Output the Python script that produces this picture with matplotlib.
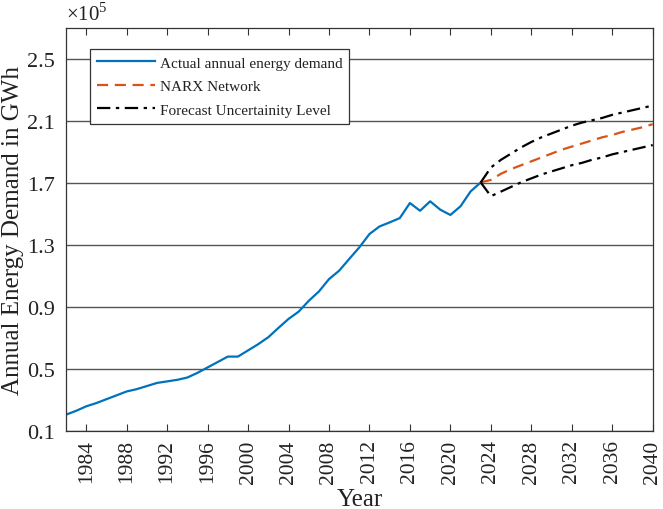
import matplotlib.pyplot as plt
import numpy as np

plt.rcParams['font.family'] = ['Liberation Serif', 'DejaVu Serif']
plt.rcParams['mathtext.fontset'] = 'custom'
plt.rcParams['mathtext.rm'] = 'Liberation Serif'
plt.rcParams['text.color'] = '#222222'
plt.rcParams['axes.labelcolor'] = '#222222'
plt.rcParams['xtick.labelcolor'] = '#222222'
plt.rcParams['ytick.labelcolor'] = '#222222'

# annual energy demand, units of 1e5 GWh
years_actual = np.arange(1982, 2024)
actual = [0.205, 0.23, 0.259, 0.28, 0.305, 0.33, 0.355, 0.37, 0.39, 0.41,
          0.42, 0.43, 0.445, 0.475, 0.51, 0.545, 0.58, 0.58, 0.62, 0.66,
          0.705, 0.765, 0.823, 0.87, 0.94, 1.00, 1.08, 1.134, 1.21, 1.285,
          1.371, 1.42, 1.446, 1.474, 1.571, 1.521, 1.582, 1.528, 1.494, 1.55,
          1.646, 1.704]

years_fc = np.arange(2023, 2041)
narx = [1.704, 1.72, 1.76, 1.79, 1.815, 1.84, 1.865, 1.89, 1.915, 1.935,
        1.955, 1.975, 1.995, 2.01, 2.03, 2.045, 2.06, 2.08]
upper = [1.704, 1.80, 1.85, 1.89, 1.93, 1.965, 1.995, 2.02, 2.045, 2.07,
         2.09, 2.105, 2.12, 2.14, 2.155, 2.17, 2.185, 2.20]
lower = [1.704, 1.615, 1.645, 1.675, 1.705, 1.73, 1.755, 1.775, 1.795, 1.815,
         1.83, 1.85, 1.865, 1.885, 1.90, 1.915, 1.93, 1.945]

yticks = [0.1, 0.5, 0.9, 1.3, 1.7, 2.1, 2.5]
xticks = np.arange(1984, 2041, 4)

fig = plt.figure(figsize=(6.63, 5.1), dpi=100)
ax = fig.add_axes([0.0995, 0.153, 0.885, 0.79])

ax.plot(years_actual, actual, color='#0072BD', lw=1.6, label='Actual annual energy demand')
ax.plot(years_fc, narx, color='#D95319', lw=1.6, ls=(0, (5, 3)), label='NARX Network')
ax.plot(years_fc, upper, color='black', lw=1.6, ls=(0, (6, 2.5, 1.5, 2.5)),
        label='Forecast Uncertainity Level')
ax.plot(years_fc, lower, color='black', lw=1.6, ls=(0, (6, 2.5, 1.5, 2.5)))

ax.set_xlim(1982, 2040)
ax.set_ylim(0.1, 2.7)
ax.set_xticks(xticks)
ax.set_xticklabels([str(x) for x in xticks], rotation=90)
ax.set_yticks(yticks)
ax.set_yticklabels(['%.1f' % v for v in yticks])
ax.tick_params(axis='x', direction='in', length=5, top=True, labelsize=15.5,
               color='#333333', pad=6)
ax.tick_params(axis='y', direction='in', length=0, labelsize=16, pad=8)
ax.grid(axis='y', color='#555555', lw=1)
for s in ax.spines.values():
    s.set_color('#333333')
    s.set_linewidth(0.9)

ax.set_xlabel('Year', fontsize=18, labelpad=4)
ax.set_ylabel('Annual Energy Demand in GWh', fontsize=18, labelpad=2)
ax.text(0.0, 1.008, r'$\times 10^5$', transform=ax.transAxes, fontsize=15,
        ha='left', va='bottom')

leg = ax.legend(loc='upper left', bbox_to_anchor=(0.041, 0.948), fontsize=11,
                fancybox=False, framealpha=1, edgecolor='#333333',
                handlelength=3.8, borderpad=0.45, labelspacing=0.65,
                handletextpad=0.3, borderaxespad=0)
leg.get_frame().set_linewidth(0.9)

fig.savefig('out.png', dpi=100)
